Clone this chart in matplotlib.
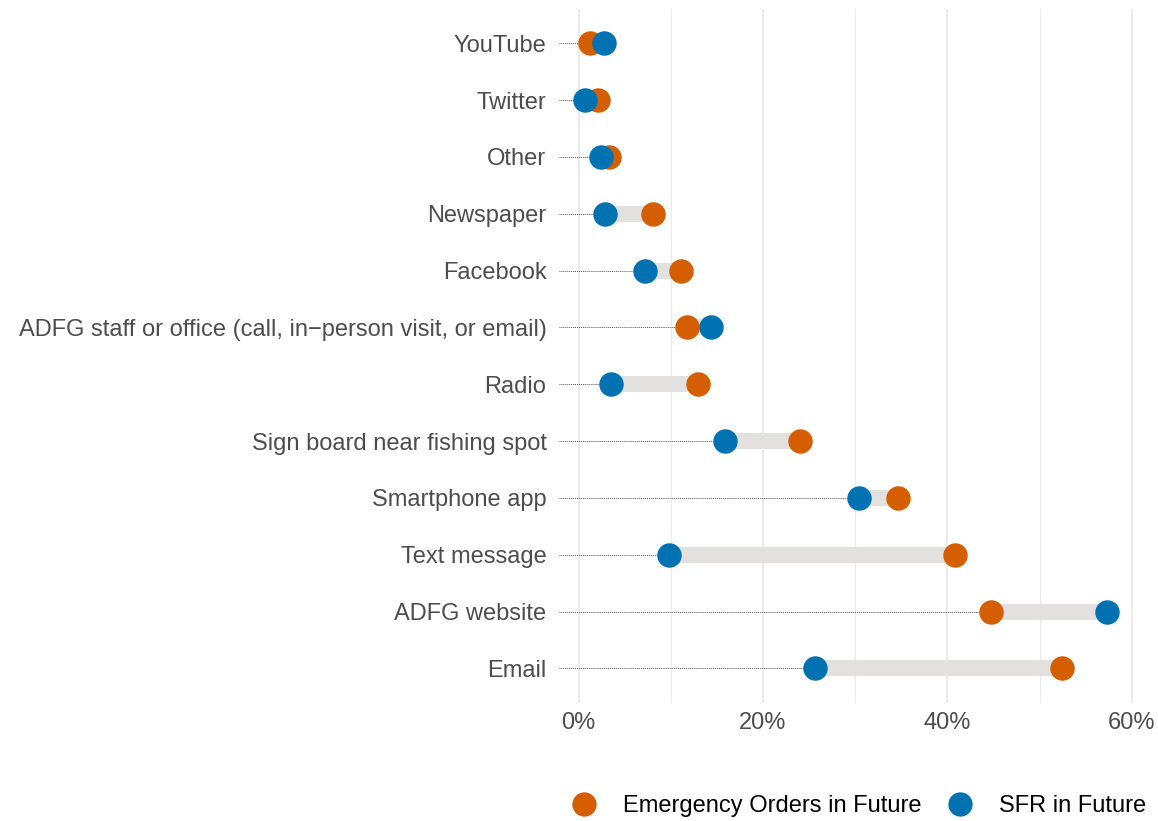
import matplotlib
matplotlib.use('Agg')
import matplotlib.pyplot as plt
from matplotlib.lines import Line2D
from matplotlib.ticker import FuncFormatter, MultipleLocator
plt.rcParams['font.family'] = ['Liberation Sans', 'DejaVu Sans']

# channels, bottom to top
channels = ['Email', 'ADFG website', 'Text message', 'Smartphone app',
            'Sign board near fishing spot', 'Radio',
            'ADFG staff or office (call, in\u2212person visit, or email)',
            'Facebook', 'Newspaper', 'Other', 'Twitter', 'YouTube']
eo_future = [52.4, 44.7, 40.8, 34.6, 24.0, 13.0, 11.7, 11.1, 8.1, 3.3, 2.1, 1.2]
sfr_future = [25.6, 57.3, 9.8, 30.4, 15.9, 3.55, 14.4, 7.2, 2.9, 2.4, 0.7, 2.8]
x_ticks = [0, 20, 40, 60]

c_eo = '#D55E00'
c_sfr = '#0072B2'
c_seg = '#E2E1DF'
grid_col = '#EBEBEB'
txt_col = '#4D4D4D'
fs = 17

fig = plt.figure(figsize=(11.58, 8.21), dpi=100)
ax = fig.add_axes([559/1158, 1-702.5/821, 574/1158, 693.3/821])

allv = eo_future + sfr_future
rng = max(allv) - min(allv)
xlo, xhi = min(allv) - 0.05*rng, max(allv) + 0.05*rng
ax.set_xlim(xlo, xhi)
ax.set_ylim(-0.6, len(channels) - 0.4)

ax.xaxis.set_major_locator(MultipleLocator(20))
ax.xaxis.set_minor_locator(MultipleLocator(10))
ax.grid(axis='x', which='major', color=grid_col, linewidth=1.5, zorder=0)
ax.grid(axis='x', which='minor', color=grid_col, linewidth=0.8, zorder=0)
ax.set_axisbelow(True)

ys = list(range(len(channels)))
for y, a, b in zip(ys, eo_future, sfr_future):
    lo = min(a, b)
    ax.plot([xlo, lo], [y, y], color='#555555', linewidth=0.7,
            linestyle=(0, (1, 1)), zorder=1, solid_capstyle='butt')
    ax.plot([a, b], [y, y], color=c_seg, linewidth=11.5,
            solid_capstyle='butt', zorder=2)

ax.scatter(eo_future, ys, s=310, color=c_eo, zorder=3, linewidths=0)
ax.scatter(sfr_future, ys, s=310, color=c_sfr, zorder=4, linewidths=0)

ax.set_yticks(ys)
ax.set_yticklabels(channels)
ax.set_xticks(x_ticks)
ax.xaxis.set_major_formatter(FuncFormatter(lambda v, p: f'{v:.0f}%'))
ax.tick_params(axis='both', which='both', length=0, labelsize=fs, labelcolor=txt_col)
ax.tick_params(axis='y', pad=9)
ax.tick_params(axis='x', pad=7)
for s in ax.spines.values():
    s.set_visible(False)

handles = [Line2D([], [], linestyle='none', marker='o', markersize=17.5,
                  markerfacecolor=c_eo, markeredgewidth=0),
           Line2D([], [], linestyle='none', marker='o', markersize=17.5,
                  markerfacecolor=c_sfr, markeredgewidth=0)]
fig.legend(handles, ['Emergency Orders in Future', 'SFR in Future'],
           loc='center', bbox_to_anchor=(858/1158, 1-806/821), ncol=2,
           frameon=False, fontsize=fs, handlelength=1.2, handletextpad=1.05,
           columnspacing=1.0, borderpad=0, borderaxespad=0)

fig.savefig('out.png', dpi=100)
